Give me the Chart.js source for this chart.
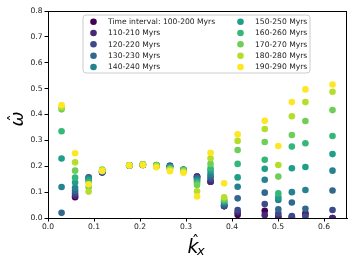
<!DOCTYPE html>
<html>
<head>
<meta charset="utf-8">
<script src="https://cdn.jsdelivr.net/npm/chart.js@4.4.1/dist/chart.umd.min.js"></script>
<style>
html,body{margin:0;padding:0;background:#fff;}
#wrap{width:357px;height:268px;position:relative;}
</style>
</head>
<body>
<div id="wrap"><canvas id="c" width="357" height="268"></canvas></div>
<script>
// ---- data ----
const kx = [0.0295,0.0589,0.0884,0.1178,0.1767,0.2062,0.2356,0.2651,0.2945,0.3240,0.3534,0.3829,0.4123,0.4712,0.5007,0.5301,0.5596,0.6185];
const seriesLabels = ["Time interval: 100-200 Myrs","110-210 Myrs","120-220 Myrs","130-230 Myrs","140-240 Myrs","150-250 Myrs","160-260 Myrs","170-270 Myrs","180-280 Myrs","190-290 Myrs"];
const seriesColors = ["#440154","#482878","#3e4989","#31688e","#26828e","#1f9e89","#35b779","#6ece58","#b5de2b","#fde725"];
const w100 = [null,0.080,null,0.176,0.203,0.205,0.200,0.200,0.185,0.160,0.140,0.046,0.012,0.028,0.001,0.003,0.018,0.000];
const w110 = [null,0.086,null,0.177,0.203,0.205,0.201,0.202,0.185,0.160,0.140,0.046,0.022,0.011,0.008,0.004,0.012,0.000];
const w120 = [null,0.095,0.157,0.178,0.203,0.206,0.202,0.202,0.186,0.157,0.151,0.046,0.031,0.054,0.018,0.008,0.006,0.031];
const w130 = [0.020,0.105,0.155,0.179,0.203,0.206,0.203,0.200,0.186,0.153,0.160,0.052,0.076,0.098,0.034,0.060,0.036,0.106];
const w140 = [0.120,0.117,0.152,0.180,0.203,0.207,0.203,0.198,0.186,0.148,0.170,0.058,0.121,0.148,0.070,0.100,0.108,0.183];
const w150 = [0.230,0.137,0.148,0.182,0.204,0.207,0.204,0.196,0.186,0.143,0.183,0.063,0.157,0.190,0.080,0.192,0.197,0.247];
const w160 = [0.335,0.156,0.140,0.184,0.204,0.208,0.205,0.193,0.185,0.137,0.192,0.067,0.209,0.225,0.095,0.276,0.289,0.317];
const w170 = [0.420,0.183,0.120,0.187,0.204,0.208,0.205,0.190,0.184,0.128,0.209,0.072,0.263,0.294,0.160,0.321,0.375,0.417];
const w180 = [0.428,0.215,0.102,0.185,0.204,0.207,0.200,0.186,0.180,0.103,0.231,0.080,0.298,0.344,0.205,0.393,0.448,0.488];
const w190 = [0.437,0.250,0.130,0.182,0.203,0.205,0.196,0.181,0.175,0.083,0.252,0.134,0.323,0.376,0.278,0.448,0.497,0.516];
const seriesValues = [w100,w110,w120,w130,w140,w150,w160,w170,w180,w190];
const xTicks = [0.0,0.1,0.2,0.3,0.4,0.5,0.6];
const yTicks = [0.0,0.1,0.2,0.3,0.4,0.5,0.6,0.7,0.8];

const FONT = "'DejaVu Sans', sans-serif";
Chart.defaults.font.family = FONT;
Chart.defaults.font.size = 7.6;
Chart.defaults.color = '#222';

const datasets = seriesValues.map((vals, i) => ({
  label: seriesLabels[i],
  data: kx.map((x, j) => vals[j] === null ? null : {x: x, y: vals[j]}).filter(p => p !== null),
  backgroundColor: seriesColors[i],
  borderWidth: 0,
  pointRadius: 3.3,
  pointHoverRadius: 3.3,
  order: 10 - i
}));

const framePlugin = {
  id: 'frame',
  afterDraw(chart) {
    const ctx = chart.ctx, a = chart.chartArea;
    ctx.save();
    ctx.strokeStyle = '#000';
    ctx.lineWidth = 1;
    ctx.strokeRect(Math.round(a.left) + 0.5, Math.round(a.top) + 0.5, Math.round(a.right - a.left) - 1, Math.round(a.bottom - a.top));
    // legend
    const bx = 83, by = 15, bw = 227, bh = 58, r = 3;
    ctx.beginPath();
    ctx.moveTo(bx + r, by); ctx.lineTo(bx + bw - r, by); ctx.arcTo(bx + bw, by, bx + bw, by + r, r);
    ctx.lineTo(bx + bw, by + bh - r); ctx.arcTo(bx + bw, by + bh, bx + bw - r, by + bh, r);
    ctx.lineTo(bx + r, by + bh); ctx.arcTo(bx, by + bh, bx, by + bh - r, r);
    ctx.lineTo(bx, by + r); ctx.arcTo(bx, by, bx + r, by, r); ctx.closePath();
    ctx.fillStyle = 'rgba(255,255,255,0.8)';
    ctx.fill();
    ctx.strokeStyle = '#cccccc';
    ctx.lineWidth = 1;
    ctx.stroke();
    ctx.font = '7.6px ' + FONT;
    ctx.textBaseline = 'middle';
    ctx.textAlign = 'left';
    const rows = [21.7, 33.0, 44.3, 55.7, 67.0];
    seriesLabels.forEach((lab, i) => {
      const col = Math.floor(i / 5), row = i % 5;
      const mx = col === 0 ? 93.5 : 240.5, tx = col === 0 ? 108 : 255;
      const y = rows[row];
      ctx.fillStyle = seriesColors[i];
      ctx.beginPath(); ctx.arc(mx, y, 3.3, 0, Math.PI * 2); ctx.fill();
      ctx.fillStyle = '#222';
      ctx.fillText(lab, tx, y + 0.5);
    });
    // axis titles
    ctx.fillStyle = '#000';
    ctx.textAlign = 'left';
    ctx.textBaseline = 'alphabetic';
    ctx.font = 'italic 19px ' + FONT;
    ctx.fillText('k', 187.5, 253);
    ctx.font = 'italic 13px ' + FONT;
    ctx.fillText('x', 197, 255);
    ctx.font = '15px ' + FONT;
    ctx.textAlign = 'center';
    ctx.fillText('\u02C6', 195.5, 247);
    // y title rotated
    ctx.save();
    ctx.translate(22.5, 119);
    ctx.rotate(-Math.PI / 2);
    ctx.font = 'italic 18px ' + FONT;
    ctx.textAlign = 'center';
    ctx.fillText('\u03C9', 0, 0);
    ctx.font = '15px ' + FONT;
    ctx.fillText('\u02C6', 1, -3);
    ctx.restore();
    ctx.restore();
  }
};

new Chart(document.getElementById('c'), {
  type: 'scatter',
  data: { datasets },
  options: {
    responsive: false,
    animation: false,
    events: [],
    layout: { padding: { top: 11, right: 10, left: 0, bottom: 0 } },
    plugins: { legend: { display: false }, tooltip: { enabled: false } },
    scales: {
      x: {
        type: 'linear', min: 0, max: 0.65,
        afterBuildTicks: s => { s.ticks = xTicks.map(v => ({ value: v })); },
        afterFit: s => { s.height = 50; },
        ticks: { callback: v => v.toFixed(1), padding: 1, maxRotation: 0, autoSkip: false, color: '#222' },
        grid: { drawOnChartArea: false, drawTicks: true, tickLength: 3.5, color: '#000', tickWidth: 1 },
        border: { display: true, color: '#000', width: 1 }
      },
      y: {
        type: 'linear', min: 0, max: 0.8,
        afterBuildTicks: s => { s.ticks = yTicks.map(v => ({ value: v })); },
        afterFit: s => { s.width = 48; },
        ticks: { callback: v => v.toFixed(1), padding: 2, autoSkip: false, color: '#222' },
        grid: { drawOnChartArea: false, drawTicks: true, tickLength: 3.5, color: '#000', tickWidth: 1 },
        border: { display: true, color: '#000', width: 1 }
      }
    }
  },
  plugins: [framePlugin]
});
</script>
</body>
</html>
